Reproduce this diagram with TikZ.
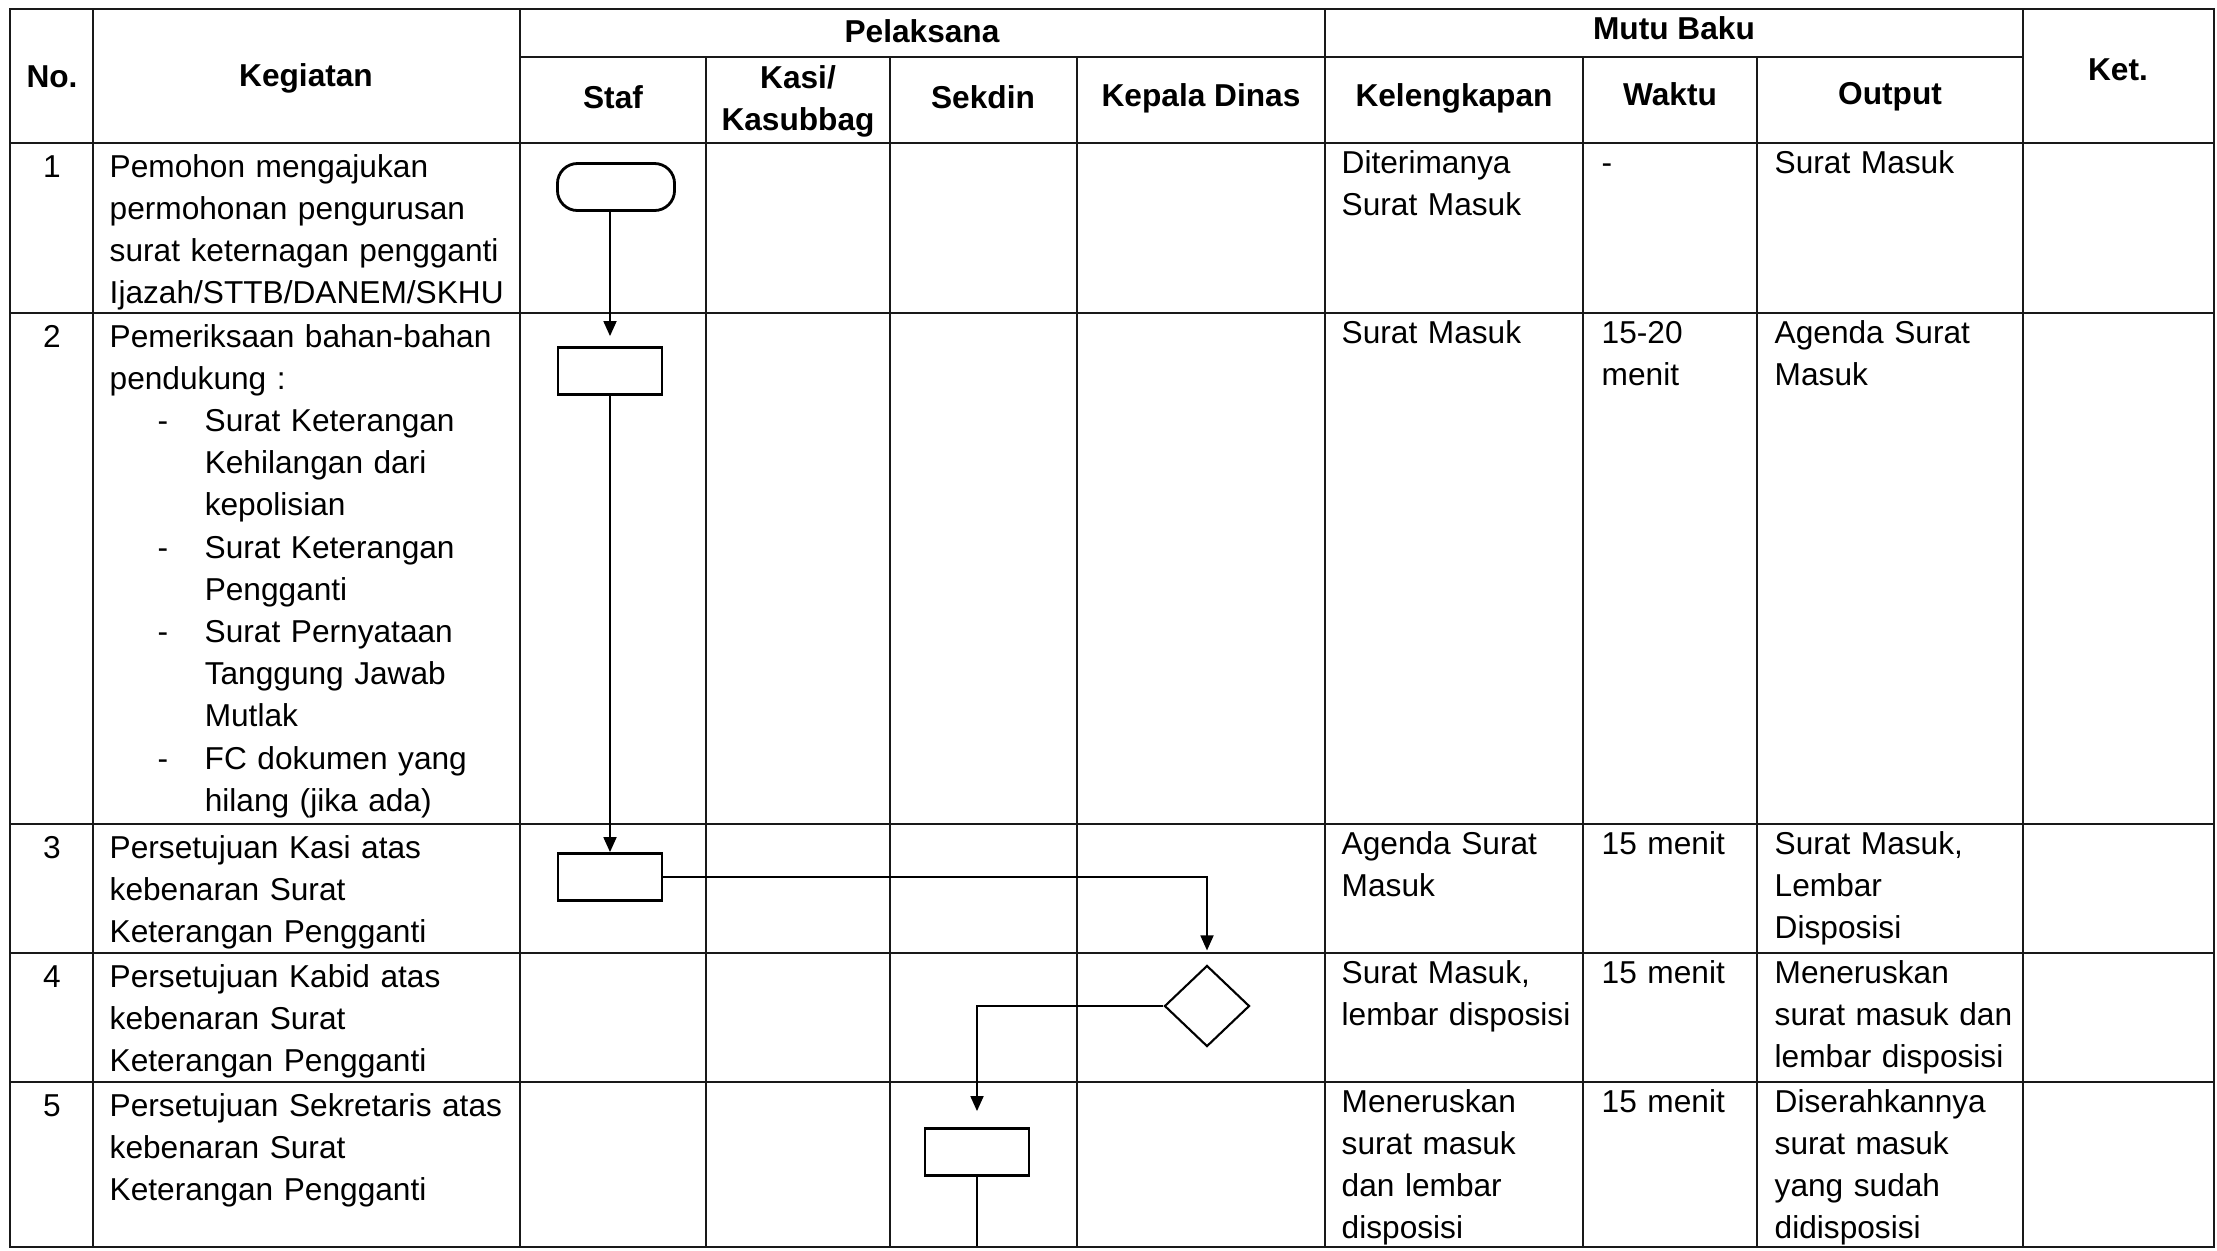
\documentclass[tikz,border=0pt]{standalone}
\usepackage{fontspec}
\setmainfont{Liberation Sans}
\usetikzlibrary{shapes.geometric, arrows.meta, positioning, calc}

\newcommand{\sopdash}{\makebox[0.95cm][l]{\hspace{0.48cm}-}}
\newcommand{\sopind}{\hspace*{0.95cm}}

\tikzset{
  tline/.style={draw=black!90, line width=0.65pt},
  hdr/.style={
    font=\fontsize{9}{12}\selectfont\bfseries, inner sep=0pt,
    anchor=base, align=center
  },
  numcell/.style={
    font=\fontsize{9}{12}\selectfont, inner sep=0pt, anchor=base
  },
  txtcell/.style={
    font=\fontsize{9}{12}\selectfont, inner sep=0pt,
    anchor=base west, align=left, text width=#1
  },
  txtcell/.default=3.95cm,
  procbox/.style={
    rectangle, draw, line width=0.8pt,
    minimum width=1.04cm, minimum height=0.47cm, inner sep=0pt
  },
  termbox/.style={
    rectangle, rounded corners=0.2cm, draw, line width=0.8pt,
    minimum width=1.17cm, minimum height=0.47cm, inner sep=0pt
  },
  decbox/.style={
    diamond, draw, line width=0.6pt,
    minimum width=0.85cm, minimum height=0.81cm, inner sep=0pt
  },
  arrow/.style={-{Triangle[length=0.15cm, width=0.13cm]}, line width=0.5pt},
  flow/.style={line width=0.5pt}
}

\begin{document}
\begin{tikzpicture}[x=0.01cm, y=-0.01cm]
    \useasboundingbox (0,0) rectangle (2217,1250);
    \fill[white] (0,0) rectangle (2217,1250);

    % Garis tabel
    \draw[tline] (10,9) rectangle (2214,1247);
    \draw[tline] (520,57) -- (2023,57);
    \draw[tline] (10,143) -- (2214,143);
    \draw[tline] (10,313) -- (2214,313);
    \draw[tline] (10,824) -- (2214,824);
    \draw[tline] (10,953) -- (2214,953);
    \draw[tline] (10,1082) -- (2214,1082);
    \draw[tline] (93,9) -- (93,1247);
    \draw[tline] (520,9) -- (520,1247);
    \draw[tline] (1325,9) -- (1325,1247);
    \draw[tline] (2023,9) -- (2023,1247);
    \draw[tline] (706,57) -- (706,1247);
    \draw[tline] (890,57) -- (890,1247);
    \draw[tline] (1077,57) -- (1077,1247);
    \draw[tline] (1583,57) -- (1583,1247);
    \draw[tline] (1757,57) -- (1757,1247);

    % Kepala tabel
    \node[hdr] (hNo) at (52,87) {No.};
    \node[hdr] (hKeg) at (306,86) {Kegiatan};
    \node[hdr] (hPel) at (922,42) {Pelaksana};
    \node[hdr] (hMutu) at (1674,39) {Mutu Baku};
    \node[hdr] (hKet) at (2118,80) {Ket.};
    \node[hdr] (hStaf) at (613,108) {Staf};
    \node[hdr, text width=1.8cm] (hKasi) at (798,88) {Kasi/\\Kasubbag};
    \node[hdr] (hSekdin) at (983,108) {Sekdin};
    \node[hdr] (hKadis) at (1201,106) {Kepala Dinas};
    \node[hdr] (hKel) at (1454,106) {Kelengkapan};
    \node[hdr] (hWaktu) at (1670,105) {Waktu};
    \node[hdr] (hOut) at (1890,104) {Output};

    % Baris 1
    \node[numcell] (no1) at (52,177) {1};
    \node[txtcell] (keg1) at (109,177)
      {Pemohon mengajukan\\permohonan pengurusan\\surat keternagan pengganti\\Ijazah/STTB/DANEM/SKHU};
    \node[txtcell=2.35cm] (kel1) at (1341,173) {Diterimanya\\Surat Masuk};
    \node[txtcell=1.5cm] (wkt1) at (1601,173) {-};
    \node[txtcell=2.45cm] (out1) at (1774,173) {Surat Masuk};

    % Baris 2
    \node[numcell] (no2) at (52,347) {2};
    \node[txtcell] (keg2) at (109,347)
      {Pemeriksaan bahan-bahan\\pendukung :\\
       \sopdash Surat Keterangan\\\sopind Kehilangan dari\\\sopind kepolisian\\
       \sopdash Surat Keterangan\\\sopind Pengganti\\
       \sopdash Surat Pernyataan\\\sopind Tanggung Jawab\\\sopind Mutlak\\
       \sopdash FC dokumen yang\\\sopind hilang (jika ada)};
    \node[txtcell=2.35cm] (kel2) at (1341,343) {Surat Masuk};
    \node[txtcell=1.5cm] (wkt2) at (1601,343) {15-20\\menit};
    \node[txtcell=2.45cm] (out2) at (1774,343) {Agenda Surat\\Masuk};

    % Baris 3
    \node[numcell] (no3) at (52,858) {3};
    \node[txtcell] (keg3) at (109,858)
      {Persetujuan Kasi atas\\kebenaran Surat\\Keterangan Pengganti};
    \node[txtcell=2.35cm] (kel3) at (1341,854) {Agenda Surat\\Masuk};
    \node[txtcell=1.5cm] (wkt3) at (1601,854) {15 menit};
    \node[txtcell=2.45cm] (out3) at (1774,854) {Surat Masuk,\\Lembar\\Disposisi};

    % Baris 4
    \node[numcell] (no4) at (52,987) {4};
    \node[txtcell] (keg4) at (109,987)
      {Persetujuan Kabid atas\\kebenaran Surat\\Keterangan Pengganti};
    \node[txtcell=2.35cm] (kel4) at (1341,983) {Surat Masuk,\\lembar disposisi};
    \node[txtcell=1.5cm] (wkt4) at (1601,983) {15 menit};
    \node[txtcell=2.45cm] (out4) at (1774,983) {Meneruskan\\surat masuk dan\\lembar disposisi};

    % Baris 5
    \node[numcell] (no5) at (52,1116) {5};
    \node[txtcell] (keg5) at (109,1116)
      {Persetujuan Sekretaris atas\\kebenaran Surat\\Keterangan Pengganti};
    \node[txtcell=2.35cm] (kel5) at (1341,1112) {Meneruskan\\surat masuk\\dan lembar\\disposisi};
    \node[txtcell=1.5cm] (wkt5) at (1601,1112) {15 menit};
    \node[txtcell=2.45cm] (out5) at (1774,1112) {Diserahkannya\\surat masuk\\yang sudah\\didisposisi};

    % Bagan alir
    \node[termbox] (mulai) at (616,187) {};
    \node[procbox] (periksa) at (610,371) {};
    \node[procbox] (kasi) at (610,877) {};
    \node[decbox] (kabid) at (1207,1006) {};
    \node[procbox] (sekdin) at (977,1152) {};
    \coordinate (lanjut) at (977,1246);

    \draw[arrow, shorten >=0.1cm] (mulai.south -| periksa.north) -- (periksa.north);
    \draw[arrow] (periksa.south) -- (kasi.north);
    \draw[arrow, shorten >=0.14cm] (kasi.east) -| (kabid.north);
    \draw[arrow, shorten >=0.16cm] (kabid.west) -| (sekdin.north);
    \draw[flow] (sekdin.south) -- (lanjut);
  \end{tikzpicture}
\end{document}
